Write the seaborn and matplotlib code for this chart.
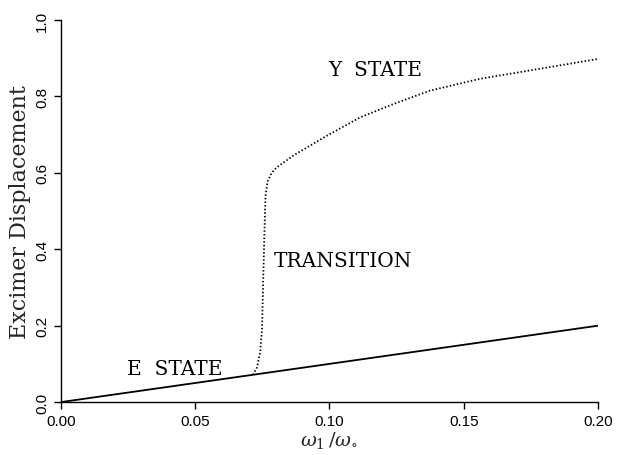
import matplotlib
matplotlib.use("Agg")
import matplotlib.pyplot as plt
import numpy as np
import pandas as pd
import seaborn as sns

# E state: straight line through the origin
e_x = [0.0, 0.05, 0.10, 0.15, 0.20]
e_y = [0.0, 0.05, 0.10, 0.15, 0.20]

# Y state / transition branch (dotted)
y_x = [0.0715, 0.0730, 0.0742, 0.0749, 0.0753, 0.0757, 0.0762, 0.0770, 0.0785,
       0.0803, 0.0865, 0.0990, 0.1114, 0.1238, 0.1374, 0.1560, 0.1747, 0.2000]
y_y = [0.0715, 0.090, 0.130, 0.190, 0.310, 0.420, 0.540, 0.578, 0.600,
       0.614, 0.645, 0.697, 0.745, 0.780, 0.815, 0.846, 0.868, 0.898]

x_ticks = [0.00, 0.05, 0.10, 0.15, 0.20]
y_ticks = [0.0, 0.2, 0.4, 0.6, 0.8, 1.0]

if __name__ == "__main__":
    sns.set_style("ticks")
    plt.rcParams["mathtext.fontset"] = "dejavuserif"

    fig = plt.figure(figsize=(6.21, 4.56), dpi=100)
    ax = fig.add_axes([0.098, 0.116, 0.865, 0.838])

    df_e = pd.DataFrame({"x": e_x, "y": e_y})
    df_y = pd.DataFrame({"x": y_x, "y": y_y})

    sns.lineplot(data=df_e, x="x", y="y", ax=ax, color="black", linewidth=1.3)
    sns.lineplot(data=df_y, x="x", y="y", ax=ax, color="black", linewidth=1.3)
    ax.lines[-1].set_linestyle((0, (0.8, 1.2)))

    ax.set_xlim(0, 0.2)
    ax.set_ylim(0, 1.0)
    ax.set_xticks(x_ticks)
    ax.set_xticklabels([f"{v:.2f}" for v in x_ticks], family="Liberation Sans", fontsize=11)
    ax.set_yticks(y_ticks)
    ax.set_yticklabels([f"{v:.1f}" for v in y_ticks], family="Liberation Sans", fontsize=11,
                       rotation=90, va="center")
    ax.tick_params(direction="out", length=5, width=1, colors="black")
    for s in ["top", "right"]:
        ax.spines[s].set_visible(False)
    for s in ["left", "bottom"]:
        ax.spines[s].set_color("black")
        ax.spines[s].set_linewidth(1)

    ax.set_xlabel(r"$\omega_{1}\,/\omega_{\circ}$", fontsize=14, labelpad=1)
    ax.set_ylabel("Excimer Displacement", family="DejaVu Serif", fontsize=16, labelpad=3)

    serif = dict(family="DejaVu Serif", fontsize=14.5, color="black")
    ax.text(0.0996, 0.870, "Y  STATE", ha="left", va="center", **serif)
    ax.text(0.0794, 0.370, "TRANSITION", ha="left", va="center", **serif)
    ax.text(0.0245, 0.087, "E  STATE", ha="left", va="center", **serif)

    plt.savefig("out.png", dpi=100)
